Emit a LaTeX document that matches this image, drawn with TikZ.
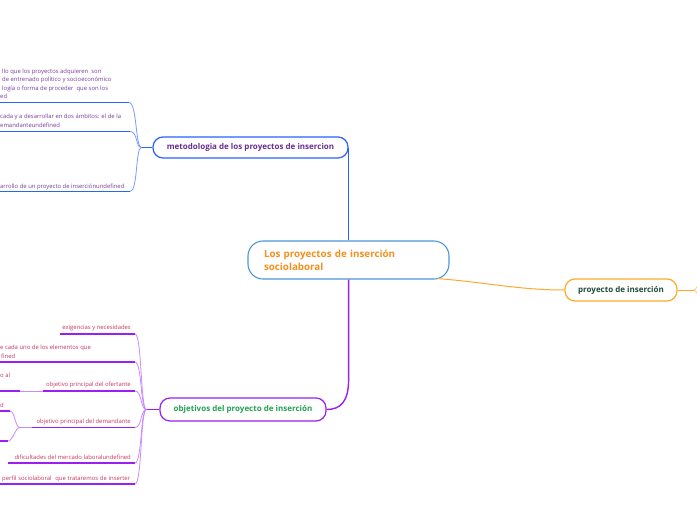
\documentclass[tikz,border=0pt]{standalone}
\usepackage{fontspec}
\setmainfont{Open Sans}
\usetikzlibrary{calc}
\definecolor{mainB}{HTML}{4A98DA}
\definecolor{mainT}{HTML}{F5901E}
\definecolor{bluB}{HTML}{2962FF}
\definecolor{bluT}{HTML}{6A2C91}
\definecolor{bluL}{HTML}{7C9BFF}
\definecolor{purB}{HTML}{9B1FF0}
\definecolor{purL}{HTML}{C98BFF}
\definecolor{grnT}{HTML}{23A052}
\definecolor{orgB}{HTML}{FFA92E}
\definecolor{orgL}{HTML}{FFCB7A}
\definecolor{tealT}{HTML}{1D4B3C}
\definecolor{subBT}{HTML}{7A3D9C}
\definecolor{subPT}{HTML}{C8385F}
\begin{document}
\begin{tikzpicture}[x=1pt,y=-1pt,
  pill/.style={draw, line width=1.2pt, rounded corners=10pt, fill=white, inner sep=0pt, font=\fontsize{8}{10}\selectfont\bfseries},
  maintopic/.style={draw=mainB, line width=1.1pt, rounded corners=15pt, fill=white, inner xsep=16pt, inner ysep=0pt, align=left, text width=169pt, minimum height=38pt, text=mainT, font=\fontsize{9.8}{13}\selectfont\bfseries},
  btxt/.style={inner sep=0pt, text=subBT, font=\fontsize{5.9}{8.5}\selectfont},
  ptxt/.style={inner sep=0pt, text=subPT, font=\fontsize{5.9}{8.5}\selectfont},
  bunder/.style={draw=bluB, line width=1.3pt},
  bcurve/.style={draw=bluL, line width=0.8pt},
  punder/.style={draw=purB, line width=1.4pt},
  pcurve/.style={draw=purL, line width=0.8pt},
]
\useasboundingbox (0,0) rectangle (697,520);
\clip (0,0) rectangle (697,520);
\fill[white] (0,0) rectangle (697,520);

% main nodes
\node[maintopic] (central) at (348.5,260) {Los proyectos de inserción\\sociolaboral};
\node[pill, draw=bluB, text=bluT, minimum width=195pt, minimum height=21pt] (metod) at (250.5,147.5) {metodologia de los proyectos de insercion};
\node[pill, draw=purB, text=grnT, minimum width=166pt, minimum height=23pt] (obj) at (243,409.5) {objetivos del proyecto de inserción};
\node[pill, draw=orgB, text=tealT, minimum width=112pt, minimum height=22pt] (proj) at (621,290) {proyecto de inserción};

% main connectors
\draw[bluB, line width=1.6pt] (metod.east) -- (metod.east |- central.north);
\draw[purB, line width=1.4pt] (central.south -| metod.east) -- ++(0,100) .. controls +(0,22) and +(14,0) .. (obj.east);
\draw[orgB, line width=1pt] ($(central.south east)+(-12,-1)$) .. controls +(50,4) and +(-45,0) .. (proj.west);
\draw[orgB, line width=1pt] (proj.east) -- ++(16,0) coordinate (ph);
\draw[orgL, line width=0.8pt] (ph) .. controls +(5,0) and +(-4,0) .. ++(14,-24);
\draw[orgL, line width=0.8pt] (ph) .. controls +(5,0) and +(-4,0) .. ++(14,24);

% metodologia children
\draw[bluB, line width=1pt] (metod.west) -- ++(-11,0) coordinate (mh);
\coordinate (m1) at (129,102.5);
\coordinate (m2) at (130,131.5);
\coordinate (m3) at (130,191.5);
\foreach \c in {m1,m2,m3}{
  \draw[bunder] (\c) -- ++(-140,0);
  \draw[bcurve] (mh) .. controls +(-6,0) and +(8,0) .. (\c);
}
\node[btxt, anchor=base west] (t11) at (2,73) {llo que los proyectos adquieren\ \ son};
\node[btxt, anchor=base west] (t12) at (2,81.5) {de entrenado político y socioeconómico};
\node[btxt, anchor=base west] (t13) at (2,90) {logía o forma de proceder\ \ que son los};
\node[btxt, anchor=base west] (t14) at (0,98.5) {ed};
\node[btxt, anchor=base west] (t21) at (0,118) {cada y a desarrollar en dos ámbitos: el de la};
\node[btxt, anchor=base west] (t22) at (0,127) {emandanteundefined};
\node[btxt, anchor=base west] (t31) at (0,188) {arrollo de un proyecto de inserciónundefined};

% objetivos children
\draw[purB, line width=1.1pt] (obj.west) -- ++(-13,0) coordinate (oh);
\coordinate (o1) at (135,334);
\coordinate (o2) at (135,362);
\coordinate (o3) at (135,391);
\coordinate (o4) at (135,427.5);
\coordinate (o5) at (135,463);
\coordinate (o6) at (135,484);
\foreach \c in {o1,o2,o3,o4,o5,o6}{
  \draw[pcurve] (oh) .. controls +(-6,0) and +(7,0) .. (\c);
}
\draw[punder] (o1) -- ++(-75,0);
\draw[punder] (o2) -- ++(-140,0);
\draw[punder] (o3) -- ++(-92,0) coordinate (o3a);
\draw[pcurve] (o3a) -- ++(-23,0) coordinate (o3b);
\draw[punder] (o3b) -- ++(-30,0);
\draw[punder] (o4) -- ++(-103,0) coordinate (o4a);
\draw[pcurve] (o4a) -- ++(-12,0) coordinate (o4h);
\coordinate (o41) at (10,411);
\coordinate (o42) at (8,441);
\draw[pcurve] (o4h) .. controls +(-5,0) and +(5,0) .. (o41);
\draw[pcurve] (o4h) .. controls +(-5,0) and +(5,0) .. (o42);
\draw[punder] (o41) -- ++(-20,0);
\draw[punder] (o42) -- ++(-20,0);
\draw[punder] (o5) -- ++(-127,0);
\draw[punder] (o6) -- ++(-140,0);

\node[ptxt, anchor=base east] (u1) at (131,329) {exigencias y necesidades};
\node[ptxt, anchor=base west] (u21) at (0,349) {e cada uno de los elementos que};
\node[ptxt, anchor=base west] (u22) at (1,358) {fined};
\node[ptxt, anchor=base west] (u31) at (0,377) {o al};
\node[ptxt, anchor=base east] (u3) at (131,386) {objetivo principal del ofertante};
\node[ptxt, anchor=base west] (u41) at (0,407) {d};
\node[ptxt, anchor=base east] (u4) at (131,423) {objetivo principal del demandante};
\node[ptxt, anchor=base east] (u5) at (131,459) {dificultades del mercado laboralundefined};
\node[ptxt, anchor=base west] (u6) at (2,480) {\makebox[128pt][s]{perfil sociolaboral\ \ que trataremos de inserter}};
\end{tikzpicture}
\end{document}
